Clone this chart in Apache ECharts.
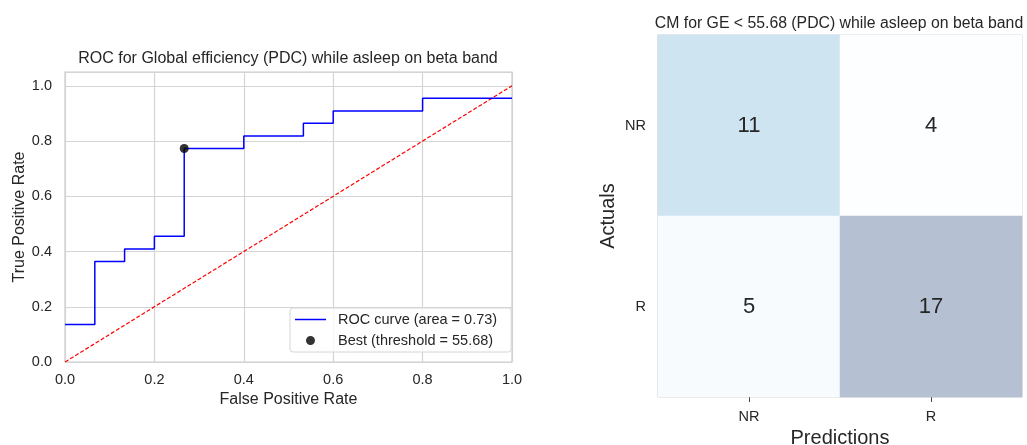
<!DOCTYPE html>
<html>
<head>
<meta charset="utf-8">
<script src="https://cdn.jsdelivr.net/npm/echarts@6/dist/echarts.min.js"></script>
<style>
  html, body { margin: 0; padding: 0; background: #fff; }
  #main { width: 1027px; height: 445px; }
</style>
</head>
<body>
<div id="main"></div>
<script>
// ROC curve corners (fpr, tpr)
var fpr = [0.0, 0.0667, 0.0667, 0.1333, 0.1333, 0.2, 0.2, 0.2667, 0.2667, 0.4, 0.4, 0.5333, 0.5333, 0.6, 0.6, 0.8, 0.8, 1.0];
var tpr = [0.136, 0.136, 0.364, 0.364, 0.409, 0.409, 0.455, 0.455, 0.773, 0.773, 0.818, 0.818, 0.864, 0.864, 0.909, 0.909, 0.955, 0.955];
var chanceLine = [[0, 0], [1, 1]];
var bestPoint = [0.2667, 0.773];
var rocName = 'ROC curve (area = 0.73)';
var bestName = 'Best (threshold = 55.68)';

// confusion matrix
var cmLabels = ['NR', 'R'];
var cmRows = [
  [11, 4],   // actual NR
  [5, 17]    // actual R
];

var FONT = '"Liberation Sans", Arial, sans-serif';
var TXT = '#262626';

var rocData = fpr.map(function (x, i) { return [x, tpr[i]]; });
var cmData = [];
cmRows.forEach(function (row, r) {
  row.forEach(function (v, c) { cmData.push([c, r, v]); });
});

var chart = echarts.init(document.getElementById('main'));

function tickFmt(v) {
  return Math.abs(v * 5 - Math.round(v * 5)) < 1e-6 ? v.toFixed(1) : '';
}

// legend icons padded to the same width so the text sits further right
var lineIcon = 'path://M0,3.8 L31,3.8 L31,5.2 L0,5.2 Z M38,0 L38,0 Z M0,9 L0,9 Z M38,9 L38,9 Z M0,0 L0,0 Z';
var dotIcon = 'path://M11,4.5 A4.5,4.5 0 1,1 20,4.5 A4.5,4.5 0 1,1 11,4.5 Z M38,0 L38,0 Z M0,9 L0,9 Z M38,9 L38,9 Z M0,0 L0,0 Z';

chart.setOption({
  animation: false,
  textStyle: { fontFamily: FONT, color: TXT },
  title: [
    {
      text: 'ROC for Global efficiency (PDC) while asleep on beta band',
      left: 288, top: 51, textAlign: 'center', padding: 0,
      textStyle: { fontSize: 16, fontWeight: 'normal', color: TXT, fontFamily: FONT }
    },
    {
      text: 'CM for GE < 55.68 (PDC) while asleep on beta band',
      left: 839, top: 16, textAlign: 'center', padding: 0,
      textStyle: { fontSize: 15.8, fontWeight: 'normal', color: TXT, fontFamily: FONT }
    }
  ],
  legend: {
    orient: 'vertical',
    left: 290, top: 308,
    backgroundColor: 'rgba(255,255,255,0.8)',
    borderColor: '#d6d6d6', borderWidth: 1, borderRadius: 3,
    padding: [4, 14, 4, 5],
    itemGap: 6, itemWidth: 38, itemHeight: 9,
    textStyle: { fontSize: 14.5, color: TXT, fontFamily: FONT },
    data: [
      { name: rocName, icon: lineIcon },
      { name: bestName, icon: dotIcon }
    ]
  },
  grid: [
    { left: 65, right: 515, top: 72, bottom: 83, show: true, borderColor: '#cccccc', borderWidth: 1.2, outerBoundsMode: 'none' },
    { left: 658, right: 5, top: 35, bottom: 48, show: true, borderColor: '#cfcfcf', borderWidth: 1.2, outerBoundsMode: 'none' }
  ],
  xAxis: [
    {
      gridIndex: 0, type: 'value', min: 0, max: 1, interval: 0.2,
      name: 'False Positive Rate', nameLocation: 'middle', nameGap: 28,
      nameTextStyle: { fontSize: 16, color: TXT },
      axisLine: { show: false }, axisTick: { show: false },
      axisLabel: { fontSize: 14.5, color: TXT, margin: 10, formatter: tickFmt },
      splitLine: { show: true, lineStyle: { color: '#d4d4d4', width: 1.2 } }
    },
    {
      gridIndex: 1, type: 'category', data: cmLabels,
      name: 'Predictions', nameLocation: 'middle', nameGap: 31,
      nameTextStyle: { fontSize: 20, color: TXT },
      axisLine: { show: false },
      axisTick: { show: true, alignWithLabel: true, length: 5, lineStyle: { color: '#444' } },
      axisLabel: { fontSize: 14.5, color: TXT, margin: 12 },
      splitLine: { show: false }
    }
  ],
  yAxis: [
    {
      gridIndex: 0, type: 'value', min: 0, max: 1.05, interval: 0.2,
      name: 'True Positive Rate', nameLocation: 'middle', nameGap: 37,
      nameTextStyle: { fontSize: 16, color: TXT },
      axisLine: { show: false }, axisTick: { show: false },
      axisLabel: { fontSize: 14.5, color: TXT, margin: 13, formatter: tickFmt, showMaxLabel: false },
      splitLine: { show: true, lineStyle: { color: '#d4d4d4', width: 1.2 } }
    },
    {
      gridIndex: 1, type: 'category', data: cmLabels, inverse: true,
      name: 'Actuals', nameLocation: 'middle', nameGap: 40,
      nameTextStyle: { fontSize: 20, color: TXT },
      axisLine: { show: false }, axisTick: { show: false },
      axisLabel: { fontSize: 14.5, color: TXT, margin: 12 },
      splitLine: { show: false }
    }
  ],
  visualMap: {
    show: false, seriesIndex: 3, min: 4, max: 17, dimension: 2,
    inRange: { color: ['#fdfeff', '#f5f9fd', '#eef4fa', '#e2eff6', '#d3e7f3', '#c6deee', '#bcd4e9', '#b5cbe1', '#b5c1d3'] }
  },
  series: [
    {
      name: 'chance', type: 'line', xAxisIndex: 0, yAxisIndex: 0,
      data: chanceLine, symbol: 'none', silent: true,
      lineStyle: { color: '#ff0000', width: 1.2, type: [4, 2] }, z: 2
    },
    {
      name: rocName, type: 'line', xAxisIndex: 0, yAxisIndex: 0,
      data: rocData, symbol: 'none',
      lineStyle: { color: '#0000ff', width: 1.5 }, itemStyle: { color: '#0000ff' }, z: 3
    },
    {
      name: bestName, type: 'scatter', xAxisIndex: 0, yAxisIndex: 0,
      data: [bestPoint], symbol: 'circle', symbolSize: 9,
      itemStyle: { color: '#000000' }, z: 4
    },
    {
      name: 'cm', type: 'heatmap', xAxisIndex: 1, yAxisIndex: 1,
      data: cmData,
      label: { show: true, fontSize: 22, color: TXT, fontFamily: FONT },
      itemStyle: { borderWidth: 0 }
    }
  ]
});
</script>
</body>
</html>
